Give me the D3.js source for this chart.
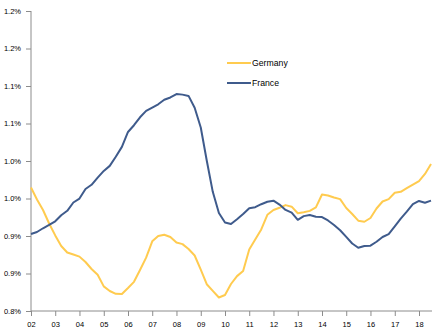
<!DOCTYPE html>
<html><head><meta charset="utf-8">
<script src="https://cdn.jsdelivr.net/npm/d3@7"></script>
<style>body{margin:0;background:#fff}svg{display:block}</style>
</head><body>
<svg id="c" width="436" height="335"></svg>
<script>
const startYear = 2002;
const germany = [0.9647,0.9487,0.9347,0.9167,0.9008,0.8867,0.878,0.8753,0.8725,0.8653,0.856,0.8483,0.8328,0.8267,0.8229,0.8227,0.8307,0.8389,0.8547,0.8711,0.8929,0.9,0.9016,0.8987,0.8913,0.8892,0.8827,0.874,0.8553,0.8357,0.8269,0.818,0.8213,0.836,0.8465,0.8533,0.882,0.8953,0.9087,0.9283,0.9347,0.9376,0.9412,0.9391,0.9303,0.9316,0.9335,0.9381,0.9553,0.954,0.9513,0.9492,0.9373,0.9293,0.9204,0.919,0.924,0.9367,0.946,0.9491,0.9576,0.9589,0.9637,0.9684,0.9733,0.9828,0.996];
const france = [0.9027,0.9053,0.9103,0.9147,0.9196,0.9277,0.9336,0.9447,0.9499,0.9627,0.9683,0.9779,0.9868,0.9935,1.0057,1.0188,1.0387,1.0477,1.0583,1.0668,1.0713,1.0756,1.0816,1.0847,1.0892,1.0885,1.0868,1.0711,1.0447,1.0007,0.9589,0.9307,0.918,0.916,0.9224,0.9292,0.9369,0.9384,0.9424,0.9456,0.9471,0.9419,0.9348,0.9311,0.9216,0.9265,0.928,0.9257,0.9253,0.9207,0.9147,0.9077,0.8988,0.89,0.8844,0.8867,0.8871,0.8923,0.8987,0.9025,0.9128,0.9232,0.9324,0.9424,0.9467,0.9444,0.9471];
const yTicks = [0.80,0.85,0.90,0.95,1.00,1.05,1.10,1.15,1.20];
const yTickLabels = ["0.8%","0.9%","0.9%","1.0%","1.0%","1.1%","1.1%","1.2%","1.2%"];
const xTickYears = d3.range(2002, 2019);
const seriesNames = ["Germany","France"];
const colors = ["#FFCB4F","#3F5B8C"];

const dates = germany.map((_, i) => new Date(startYear, i * 3, 1));
const svg = d3.select("#c");
const x = d3.scaleTime().domain([new Date(2002,0,1), new Date(2018,0,1)]).range([31, 419]);
const y = d3.scaleLinear().domain([0.8, 1.2]).range([311, 11]);
const font = "Liberation Sans, Arial, sans-serif";
const axisColor = "#8c8c8c";

// y axis
const ya = svg.append("g").attr("transform","translate(31,0)")
  .call(d3.axisLeft(y).tickValues(yTicks).tickSize(5).tickPadding(5)
    .tickFormat((d,i) => yTickLabels[i]));
ya.select(".domain").attr("stroke", axisColor).attr("d", `M0,${y(1.2)}V${y(0.8)}`);
ya.selectAll(".tick line").attr("stroke", axisColor);
ya.selectAll("text").attr("font-family", font).attr("font-size", 7.5).attr("fill", "#000");

// x axis
const xa = svg.append("g").attr("transform","translate(0,311)")
  .call(d3.axisBottom(x).tickValues(xTickYears.map(yv => new Date(yv,0,1))).tickSize(5).tickPadding(6)
    .tickFormat(d3.timeFormat("%y")));
xa.select(".domain").attr("stroke", axisColor).attr("d", "M31,0H432");
xa.selectAll(".tick line").attr("stroke", axisColor);
xa.selectAll("text").attr("font-family", font).attr("font-size", 7.5).attr("fill", "#000");

const line = d3.line().x((d,i) => x(dates[i])).y(d => y(d));
[germany, france].forEach((s, k) => {
  svg.append("path").datum(s).attr("d", line).attr("fill","none")
    .attr("stroke", colors[k]).attr("stroke-width", 2).attr("stroke-linejoin","round");
});

// legend
seriesNames.forEach((n, k) => {
  const ly = 63 + k * 20;
  svg.append("line").attr("x1", 227).attr("x2", 251).attr("y1", ly).attr("y2", ly)
    .attr("stroke", colors[k]).attr("stroke-width", 2);
  svg.append("text").attr("x", 252).attr("y", ly + 3).text(n)
    .attr("font-family", font).attr("font-size", 8.7).attr("fill", "#000");
});
</script>
</body></html>
